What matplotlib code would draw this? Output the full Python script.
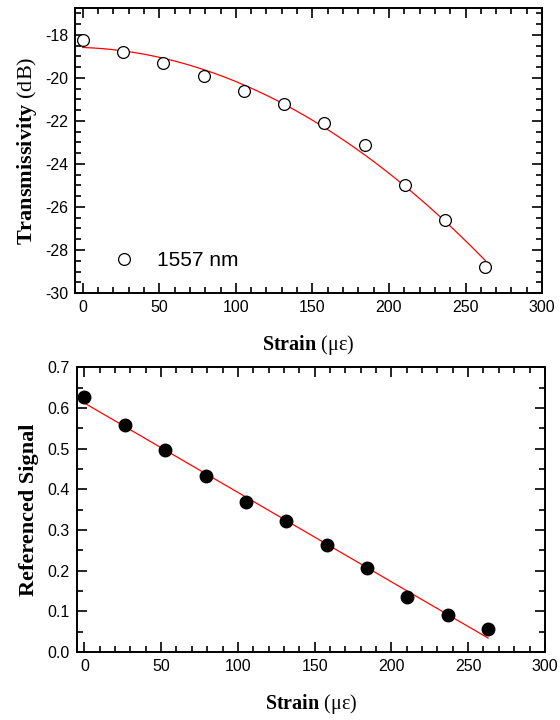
import matplotlib
matplotlib.use('Agg')
import matplotlib.pyplot as plt
from matplotlib.ticker import MultipleLocator, FormatStrFormatter
import numpy as np

plt.rcParams['font.family'] = ['Liberation Sans', 'DejaVu Sans']
plt.rcParams['axes.unicode_minus'] = False
plt.rcParams['mathtext.fontset'] = 'custom'
plt.rcParams['mathtext.rm'] = 'Liberation Serif'
plt.rcParams['mathtext.bf'] = 'Liberation Serif:bold'

strain = [0, 26.3, 52.6, 78.9, 105.2, 131.5, 157.8, 184.1, 210.4, 236.7, 263]
transmissivity = [-18.25, -18.8, -19.3, -19.9, -20.6, -21.2, -22.1, -23.1, -25.0, -26.6, -28.8]
ref_signal = [0.626, 0.557, 0.497, 0.433, 0.368, 0.322, 0.262, 0.207, 0.135, 0.092, 0.056]

serif = 'Liberation Serif'
tick_size = 11.5
xlabel_size = 14.5
ylabel_size = 16


def style_axes(ax):
    ax.tick_params(which='both', direction='in', top=True, right=True,
                   labelsize=tick_size, width=1.2)
    ax.tick_params(which='major', length=7, pad=5)
    ax.tick_params(which='minor', length=4)
    for s in ax.spines.values():
        s.set_linewidth(1.4)
    ax.xaxis.set_major_locator(MultipleLocator(50))
    ax.xaxis.set_minor_locator(MultipleLocator(10))


fig = plt.figure(figsize=(5.6, 7.2), dpi=100)

# top panel
ax1 = fig.add_axes([0.134, 0.593, 0.834, 0.396])
fit1 = np.polyfit(strain, transmissivity, 2)
xs = np.linspace(0, 263, 200)
ax1.plot(xs, np.polyval(fit1, xs), color='red', lw=0.9)
ax1.plot(strain, transmissivity, 'o', mfc='white', mec='black', ms=8.5, mew=0.9,
         label='1557 nm')
ax1.set_xlim(-5, 300)
ax1.set_ylim(-30, -16.75)
ax1.yaxis.set_major_locator(MultipleLocator(2))
ax1.yaxis.set_minor_locator(MultipleLocator(0.5))
style_axes(ax1)
ax1.set_xlabel(r'$\mathbf{Strain}$ (με)', family=serif, size=xlabel_size, labelpad=13)
ax1.set_ylabel(r'$\mathbf{Transmissivity}$ (dB)', family=serif, size=ylabel_size, labelpad=4)
ax1.legend(loc='lower left', frameon=False, fontsize=15, handletextpad=0.6,
           bbox_to_anchor=(0.02, 0.015))

# bottom panel
ax2 = fig.add_axes([0.137, 0.0944, 0.836, 0.3956])
fit2 = np.polyfit(strain, ref_signal, 1)
ax2.plot(xs, np.polyval(fit2, xs), color='red', lw=0.9)
ax2.plot(strain, ref_signal, 'o', color='black', ms=9)
ax2.set_xlim(-5, 300)
ax2.set_ylim(0, 0.7)
ax2.yaxis.set_major_locator(MultipleLocator(0.1))
ax2.yaxis.set_minor_locator(MultipleLocator(0.05))
ax2.yaxis.set_major_formatter(FormatStrFormatter('%.1f'))
style_axes(ax2)
ax2.set_xlabel(r'$\mathbf{Strain}$ (με)', family=serif, size=xlabel_size, labelpad=13)
ax2.set_ylabel('Referenced Signal', family=serif, weight='bold', size=ylabel_size, labelpad=6)

fig.savefig('out.png', dpi=100)
